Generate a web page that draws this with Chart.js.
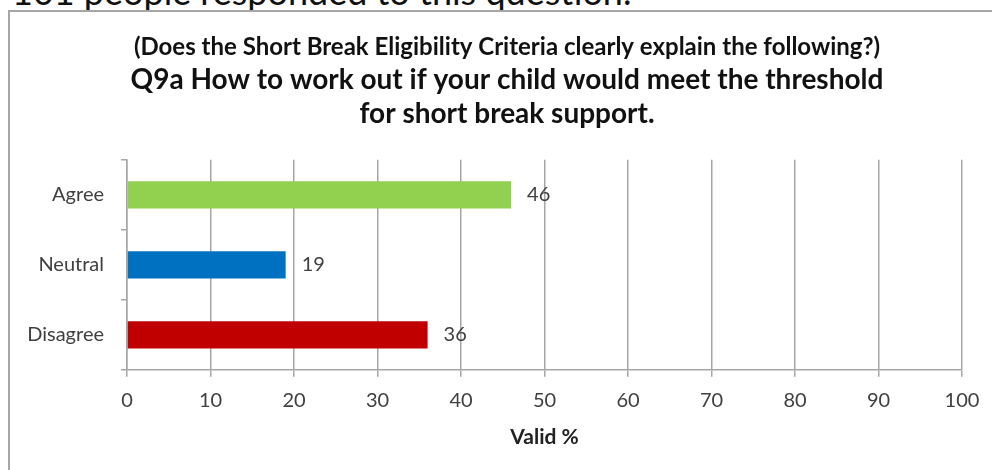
<!DOCTYPE html>
<html>
<head>
<meta charset="utf-8">
<script src="https://cdn.jsdelivr.net/npm/chart.js@4.4.0/dist/chart.umd.min.js"></script>
<style>
  html, body { margin: 0; padding: 0; background: #fff; }
  body { width: 992px; height: 470px; position: relative; overflow: hidden; font-family: Lato, sans-serif; }
  #frame { position: absolute; left: 8px; top: 10px; width: 1000px; height: 500px;
           border-left: 2px solid #a6a6a6; border-top: 2px solid #a6a6a6; pointer-events: none; }
  #note { position: absolute; left: 12px; top: -27px; font-size: 36px; line-height: 36px; color: #111; white-space: nowrap; }
  #wrap { position: absolute; left: 0; top: 0; width: 1044px; height: 470px; }
</style>
</head>
<body>
<div id="note">101 people responded to this question.</div>
<div id="frame"></div>
<div id="wrap"><canvas id="chart" width="1044" height="470"></canvas></div>
<script>
// Q9a responses (valid %)
const categories = ['Agree', 'Neutral', 'Disagree'];
const values = [46, 19, 36];
const barColors = ['#92d050', '#0070c0', '#c00000'];

const titleLine = '(Does the Short Break Eligibility Criteria clearly explain the following?)';
const questionLines = ['Q9a How to work out if your child would meet the threshold', 'for short break support.'];

const axisGray = '#a6a6a6';
const textGray = '#404040';

// value labels just right of each bar
const valueLabels = {
    id: 'valueLabels',
    afterDatasetsDraw(chart) {
        const ctx = chart.ctx;
        const meta = chart.getDatasetMeta(0);
        ctx.save();
        ctx.font = '20px Lato';
        ctx.fillStyle = textGray;
        ctx.textBaseline = 'middle';
        ctx.textAlign = 'left';
        meta.data.forEach((bar, i) => {
            ctx.fillText(String(values[i]), bar.x + 16, bar.y);
        });
        ctx.restore();
    }
};

const ctx = document.getElementById('chart').getContext('2d');
new Chart(ctx, {
    type: 'bar',
    data: {
        labels: categories,
        datasets: [{
            data: values,
            backgroundColor: barColors,
            borderWidth: 0,
            categoryPercentage: 1,
            barPercentage: 0.39
        }]
    },
    options: {
        indexAxis: 'y',
        responsive: false,
        animation: false,
        layout: {
            padding: { left: 0, right: 30, top: 20, bottom: 10 }
        },
        plugins: {
            legend: { display: false },
            tooltip: { enabled: false },
            title: {
                display: true,
                text: titleLine,
                color: '#111',
                font: { family: 'Lato', size: 24, weight: 'bold', lineHeight: 1.2 },
                padding: { top: 13, bottom: 0 }
            },
            subtitle: {
                display: true,
                text: questionLines,
                color: '#111',
                font: { family: 'Lato', size: 28, weight: 'bold', lineHeight: 1.214 },
                padding: { top: 1, bottom: 29 }
            }
        },
        scales: {
            x: {
                min: 0,
                max: 100,
                ticks: {
                    stepSize: 10,
                    color: textGray,
                    font: { family: 'Lato', size: 20 },
                    padding: 12
                },
                grid: {
                    color: axisGray,
                    lineWidth: 1.5,
                    tickLength: 7
                },
                border: { color: axisGray, width: 1.5 },
                title: {
                    display: true,
                    text: 'Valid %',
                    color: '#222',
                    font: { family: 'Lato', size: 21, weight: 'bold', lineHeight: 1.2 },
                    padding: { top: 0, bottom: 10 }
                }
            },
            y: {
                ticks: {
                    color: textGray,
                    font: { family: 'Lato', size: 20 },
                    padding: 17
                },
                grid: {
                    drawOnChartArea: false,
                    color: axisGray,
                    lineWidth: 1.5,
                    tickLength: 6
                },
                border: { color: axisGray, width: 1.5 },
                afterFit(scale) {
                    scale.width = 127;
                }
            },
            // empty right-hand gutter so the titles centre like the original
            gutter: {
                axis: 'y',
                type: 'linear',
                position: 'right',
                ticks: { display: false },
                grid: { display: false },
                border: { display: false },
                afterFit(scale) {
                    scale.width = 52;
                }
            }
        }
    },
    plugins: [valueLabels]
});
</script>
</body>
</html>
